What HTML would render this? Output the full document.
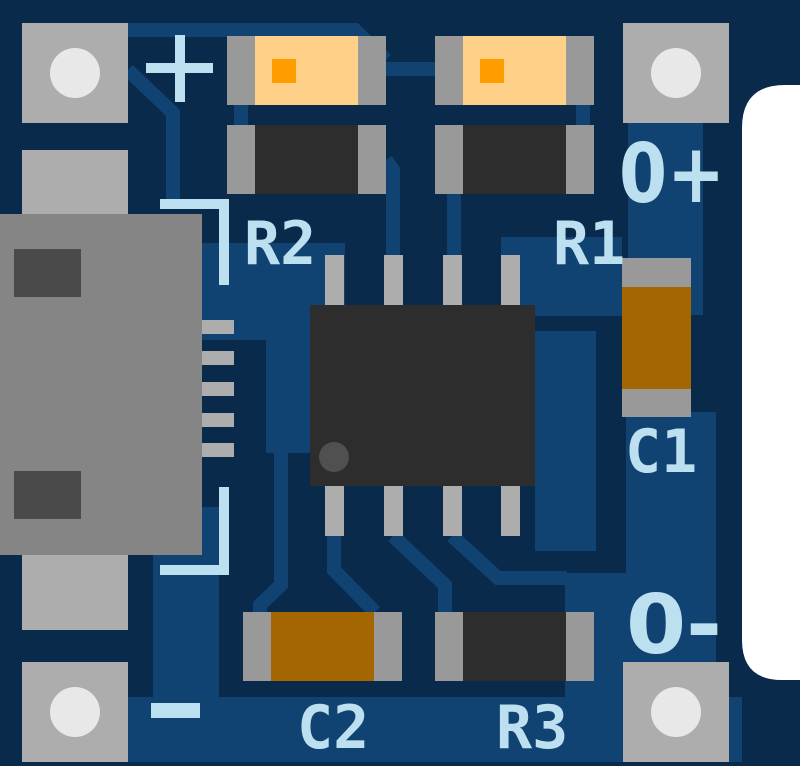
<!DOCTYPE html>
<html><head><meta charset="utf-8"><style>html,body{margin:0;padding:0;background:#0a2a4b;}svg{display:block}</style></head>
<body>
<svg width="800" height="766" viewBox="0 0 800 766" xmlns="http://www.w3.org/2000/svg">
<rect width="800" height="766" fill="#0a2a4b"/>
<g fill="#104272">
<rect x="202" y="243" width="143" height="97"/>
<rect x="266" y="340" width="44" height="113"/>
<rect x="501" y="237" width="121" height="79"/>
<rect x="535" y="331" width="61" height="220"/>
<rect x="628" y="123" width="75" height="192"/>
<rect x="626" y="412" width="90" height="250"/>
<rect x="153" y="507" width="66" height="190"/>
<rect x="128" y="697" width="614" height="65"/>
<rect x="565" y="573" width="61" height="124"/>
</g>
<g fill="none" stroke="#104272" stroke-width="14">
<polyline points="110,30 355,30 386,60"/>
<polyline points="386,69 435,69"/>
<polyline points="128,70 173,113 173,200"/>
<polyline points="241,105 241,125"/>
<polyline points="583,105 583,125"/>
<polyline points="386,160 393,170 393,255"/>
<polyline points="454,194 454,255"/>
<polyline points="281,453 281,585 260,605 260,612"/>
<polyline points="334,536 334,570 375,612"/>
<polyline points="393,536 445,585 445,612"/>
<polyline points="452,536 498,578 567,578"/>
</g>
<g fill="#adadad">
<rect x="22" y="23" width="106" height="100"/>
<rect x="22" y="662" width="106" height="100"/>
<rect x="623" y="23" width="106" height="100"/>
<rect x="623" y="662" width="106" height="100"/>
<rect x="22" y="150" width="106" height="70"/>
<rect x="22" y="550" width="106" height="80"/>
</g>
<g fill="#e8e8e8">
<circle cx="75" cy="73" r="25"/><circle cx="75" cy="712" r="25"/>
<circle cx="676" cy="73" r="25"/><circle cx="676" cy="712" r="25"/>
</g>
<rect x="0" y="214" width="202" height="341" fill="#858585"/>
<rect x="14" y="249" width="67" height="48" fill="#4a4a4a"/>
<rect x="14" y="471" width="67" height="48" fill="#4a4a4a"/>
<g fill="#adadad">
<rect x="202" y="320" width="32" height="14"/><rect x="202" y="351" width="32" height="14"/>
<rect x="202" y="382" width="32" height="14"/><rect x="202" y="413" width="32" height="14"/>
<rect x="202" y="443" width="32" height="14"/>
<rect x="325" y="255" width="19" height="50"/><rect x="384" y="255" width="19" height="50"/>
<rect x="443" y="255" width="19" height="50"/><rect x="501" y="255" width="19" height="50"/>
<rect x="325" y="486" width="19" height="50"/><rect x="384" y="486" width="19" height="50"/>
<rect x="443" y="486" width="19" height="50"/><rect x="501" y="486" width="19" height="50"/>
</g>
<rect x="310" y="305" width="225" height="181" fill="#2d2d2d"/>
<circle cx="334" cy="457" r="15" fill="#505050"/>
<rect x="227" y="36" width="159" height="69" fill="#999"/><rect x="255" y="36" width="103" height="69" fill="#ffd088"/><rect x="272" y="59" width="24" height="24" fill="#ff9d00"/>
<rect x="435" y="36" width="159" height="69" fill="#999"/><rect x="463" y="36" width="103" height="69" fill="#ffd088"/><rect x="480" y="59" width="24" height="24" fill="#ff9d00"/>
<rect x="227" y="125" width="159" height="69" fill="#999"/><rect x="255" y="125" width="103" height="69" fill="#2d2d2d"/>
<rect x="435" y="125" width="159" height="69" fill="#999"/><rect x="463" y="125" width="103" height="69" fill="#2d2d2d"/>
<rect x="435" y="612" width="159" height="69" fill="#999"/><rect x="463" y="612" width="103" height="69" fill="#2d2d2d"/>
<rect x="243" y="612" width="159" height="69" fill="#999"/><rect x="271" y="612" width="103" height="69" fill="#a46600"/>
<rect x="622" y="258" width="69" height="159" fill="#999"/><rect x="622" y="287" width="69" height="102" fill="#a46600"/>
<g fill="#bde0f0">
<rect x="160" y="199" width="69" height="10"/><rect x="219" y="199" width="10" height="86"/>
<rect x="219" y="487" width="10" height="88"/><rect x="160" y="565" width="69" height="10"/>
<rect x="146" y="63" width="67" height="10"/><rect x="175" y="35" width="10" height="67"/>
<rect x="151" y="703" width="49" height="15"/>
</g>
<g fill="#bde0f0" font-family="'DejaVu Sans Mono','Liberation Mono',monospace" font-weight="bold" font-size="60">
<text x="244" y="264">R2</text>
<text x="553" y="264">R1</text>
<text x="625" y="472">C1</text>
<text x="297" y="748">C2</text>
<text x="496" y="748">R3</text>
</g>
<g fill="#bde0f0" font-family="'DejaVu Sans','Liberation Sans',sans-serif" font-weight="bold" font-size="82">
<text x="619" y="202" textLength="106" lengthAdjust="spacingAndGlyphs">0+</text>
<text x="626" y="653" textLength="96" lengthAdjust="spacingAndGlyphs">0-</text>
</g>
<path d="M800,85 L785,85 Q742,85 742,128 L742,640 Q742,680 782,680 L800,680 Z" fill="#ffffff"/>
</svg>
</body></html>
